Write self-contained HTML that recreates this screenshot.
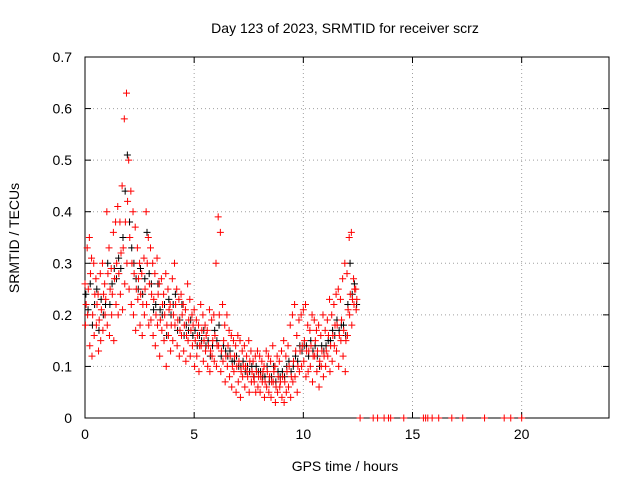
<!DOCTYPE html>
<html><head><meta charset="utf-8"><style>
body{margin:0;background:#fff}
svg text{font-family:"Liberation Sans",sans-serif;font-size:14px;fill:#000}
</style></head><body>
<svg id="c" width="640" height="480" xmlns="http://www.w3.org/2000/svg"></svg>
<script>
const times=[0,0.1,0.2,0.3,0.4,0.5,0.6,0.7,0.8,0.9,1,1.1,1.2,1.3,1.4,1.5,1.6,1.7,1.8,1.9,2,2.1,2.2,2.3,2.4,2.5,2.6,2.7,2.8,2.9,3,3.1,3.2,3.3,3.4,3.5,3.6,3.7,3.8,3.9,4,4.1,4.2,4.3,4.4,4.5,4.6,4.7,4.8,4.9,5,5.1,5.2,5.3,5.4,5.5,5.6,5.7,5.8,5.9,6,6.1,6.2,6.3,6.4,6.5,6.6,6.7,6.8,6.9,7,7.1,7.2,7.3,7.4,7.5,7.6,7.7,7.8,7.9,8,8.1,8.2,8.3,8.4,8.5,8.6,8.7,8.8,8.9,9,9.1,9.2,9.3,9.4,9.5,9.6,9.7,9.8,9.9,10,10.1,10.2,10.3,10.4,10.5,10.6,10.7,10.8,10.9,11,11.1,11.2,11.3,11.4,11.5,11.6,11.7,11.8,11.9,12,12.1,12.2,12.3,12.4];
const redHi=[.26,.33,.35,.31,.30,.27,.24,.28,.30,.26,.40,.33,.29,.36,.38,.41,.38,.45,.58,.63,.50,.44,.40,.37,.33,.30,.28,.31,.40,.35,.33,.30,.28,.31,.26,.27,.24,.28,.25,.22,.27,.30,.25,.23,.24,.22,.21,.26,.23,.20,.21,.19,.18,.22,.20,.18,.17,.21,.19,.20,.30,.39,.36,.22,.18,.20,.17,.16,.15,.14,.16,.15,.13,.14,.12,.15,.13,.11,.12,.13,.12,.11,.10,.13,.12,.11,.14,.10,.12,.11,.13,.15,.12,.14,.18,.20,.22,.16,.19,.20,.21,.22,.18,.17,.20,.19,.17,.18,.16,.20,.17,.19,.23,.20,.22,.24,.25,.23,.27,.30,.28,.35,.36,.27,.25];
const redMid=[.22,.25,.28,.20,.24,.22,.19,.21,.24,.23,.28,.25,.24,.27,.30,.28,.32,.33,.38,.42,.35,.30,.28,.25,.27,.24,.22,.25,.30,.26,.24,.23,.20,.24,.19,.22,.20,.18,.21,.18,.20,.22,.19,.17,.20,.18,.16,.19,.17,.18,.15,.16,.14,.17,.15,.16,.14,.13,.15,.16,.14,.20,.13,.15,.12,.14,.12,.10,.12,.10,.11,.09,.10,.10,.08,.11,.09,.07,.09,.08,.08,.09,.07,.09,.08,.07,.09,.06,.08,.07,.08,.07,.09,.10,.08,.11,.13,.10,.13,.14,.15,.13,.13,.14,.12,.15,.13,.11,.13,.12,.13,.16,.14,.16,.18,.18,.16,.19,.17,.15,.21,.24,.23,.25,.23];
const redLo=[.18,.20,.14,.12,.16,.18,.13,.15,.17,.20,.18,.16,.20,.15,.22,.20,.24,.21,.26,.30,.25,.22,.20,.17,.23,.18,.16,.20,.22,.18,.19,.16,.14,.18,.12,.17,.15,.10,.16,.13,.15,.18,.14,.12,.16,.13,.11,.15,.12,.14,.10,.12,.09,.14,.11,.13,.10,.09,.12,.11,.10,.14,.09,.11,.07,.10,.08,.06,.09,.05,.07,.04,.08,.06,.09,.05,.07,.08,.05,.06,.05,.07,.04,.06,.05,.04,.07,.03,.05,.06,.04,.03,.05,.06,.04,.07,.08,.05,.09,.10,.11,.08,.09,.10,.07,.12,.09,.06,.10,.08,.10,.12,.09,.11,.14,.13,.10,.15,.12,.09,.16,.20,.18,.22,.21];
const blackV=[.24,.21,.26,.18,.22,.25,.17,.23,.20,.22,.30,.22,.26,.29,.27,.31,.29,.35,.44,.51,.38,.33,.30,.27,.25,.29,.24,.27,.36,.28,.26,.21,.22,.26,.21,.20,.22,.16,.23,.20,.22,.24,.17,.19,.22,.16,.18,.17,.19,.16,.17,.14,.16,.15,.17,.14,.15,.12,.14,.17,.15,.18,.12,.14,.13,.12,.13,.11,.11,.12,.10,.10,.11,.09,.10,.09,.10,.08,.10,.09,.09,.08,.08,.10,.07,.08,.10,.07,.09,.08,.09,.08,.10,.11,.09,.10,.12,.11,.14,.13,.14,.14,.12,.15,.13,.14,.12,.10,.14,.13,.14,.15,.15,.17,.16,.19,.17,.18,.18,.16,.22,.30,.24,.26,.22];
const zeroT=[12.6,13.2,13.4,13.7,13.9,14.0,14.6,15.5,15.6,15.7,15.9,16.2,16.8,17.3,18.3,19.2,19.5,20.0];
const xTicks=[0,5,10,15,20];
const yTicks=[0,0.1,0.2,0.3,0.4,0.5,0.6,0.7];
const yLabels=["0","0.1","0.2","0.3","0.4","0.5","0.6","0.7"];
const L=85,R=609,T=57,B=418,XMAX=24,YMAX=0.7;
const X=v=>L+v/XMAX*(R-L), Y=v=>B-v/YMAX*(B-T);
const svg=document.getElementById('c');NS="http://www.w3.org/2000/svg";
function mk(tag,a,parent){const e=document.createElementNS(NS,tag);for(const k in a)e.setAttribute(k,a[k]);(parent||svg).appendChild(e);return e;}
const grid=mk('g',{});


xTicks.forEach(t=>{if(t>0)mk('line',{x1:X(t),x2:X(t),y1:T,y2:B,stroke:'#a0a0a0','stroke-dasharray':'1,3'},grid);
 mk('line',{x1:X(t),x2:X(t),y1:B,y2:B-6,stroke:'#000'},grid);mk('line',{x1:X(t),x2:X(t),y1:T,y2:T+6,stroke:'#000'},grid);
 const tx=mk('text',{x:X(t),y:B+21,'text-anchor':'middle'});tx.textContent=t;
 
 });
yTicks.forEach((t,i)=>{if(t>0&&t<YMAX)mk('line',{x1:L,x2:R,y1:Y(t),y2:Y(t),stroke:'#a0a0a0','stroke-dasharray':'1,3'},grid);
 mk('line',{x1:L,x2:L+6,y1:Y(t),y2:Y(t),stroke:'#000'},grid);mk('line',{x1:R,x2:R-6,y1:Y(t),y2:Y(t),stroke:'#000'},grid);
 const tx=mk('text',{x:L-13,y:Y(t)+5,'text-anchor':'end'});tx.textContent=yLabels[i];
 
 });
const frame=mk('rect',{x:L,y:T,width:R-L,height:B-T,fill:'none',stroke:'#000'});


function plus(g,t,v,col){const x=X(t),y=Y(v);mk('path',{d:`M${x-3.5} ${y}h7M${x} ${y-3.5}v7`,stroke:col,'stroke-width':1,fill:'none'},g);}
const gb=mk('g',{});


times.forEach((t,i)=>plus(gb,t+0.04,blackV[i],'#000'));
const gr=mk('g',{});


times.forEach((t,i)=>{plus(gr,t,redHi[i],'#f00');plus(gr,t+0.05,redMid[i],'#f00');plus(gr,t+0.02,redLo[i],'#f00');});
zeroT.forEach(t=>plus(gr,t,0,'#f00'));
const tt=mk('text',{x:345,y:33,'text-anchor':'middle'});tt.textContent='Day 123 of 2023, SRMTID for receiver scrz';


const xl=mk('text',{x:345,y:471,'text-anchor':'middle'});xl.textContent='GPS time / hours';


const yl=mk('text',{x:0,y:0,'text-anchor':'middle',transform:'translate(19,238) rotate(-90)'});yl.textContent='SRMTID / TECUs';


</script>
</body></html>
